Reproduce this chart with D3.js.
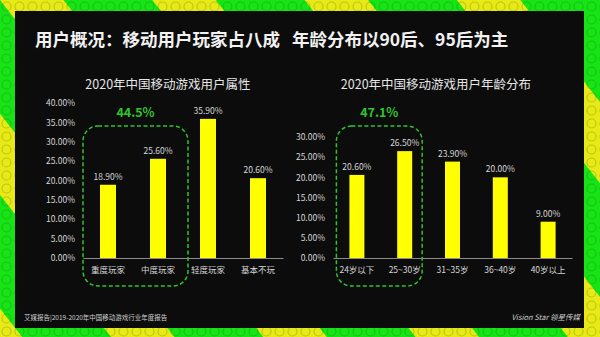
<!DOCTYPE html>
<html>
<head>
<meta charset="utf-8">
<script src="https://cdn.jsdelivr.net/npm/d3@7"></script>
<style>
  html, body { margin: 0; padding: 0; background: #000; }
  svg { display: block; }
  text { font-family: "Noto Sans CJK SC", "Noto Sans", sans-serif; }
</style>
</head>
<body>
<svg id="chart" width="600" height="337"></svg>
<script>
// ---- data ----
const typeCats = ["重度玩家", "中度玩家", "轻度玩家", "基本不玩"];
const typeVals = [18.9, 25.6, 35.9, 20.6];
const typeTicks = [0, 5, 10, 15, 20, 25, 30, 35, 40];

const ageCats = ["24岁以下", "25~30岁", "31~35岁", "36~40岁", "40岁以上"];
const ageVals = [20.6, 26.5, 23.9, 20.0, 9.0];
const ageTicks = [0, 5, 10, 15, 20, 25, 30];

const pageTitle = "用户概况：移动用户玩家占八成\u00a0\u00a0\u00a0年龄分布以90后、95后为主";
const typeTitle = "2020年中国移动游戏用户属性";
const ageTitle = "2020年中国移动游戏用户年龄分布";
const sourceText = "艾媒报告|2019-2020年中国移动游戏行业年度报告";
const brandText = "Vision Star 领星传媒";

// ---- palette ----
const GREEN = "#17e317";
const YELLOW = "#e9e918";
const BAR = "#ffff00";
const HILITE = "#2fc42f";
const LABEL = "#d6d6d6";

const svg = d3.select("#chart");
const defs = svg.append("defs");

// toy-brick backdrop: diagonal yellow bands on green, with stud rings
const stripes = defs.append("pattern")
  .attr("id", "bands")
  .attr("patternUnits", "userSpaceOnUse")
  .attr("width", 120).attr("height", 120)
  .attr("patternTransform", "rotate(-38)");
stripes.append("rect").attr("width", 120).attr("height", 120).attr("fill", GREEN);
stripes.append("rect").attr("width", 50).attr("height", 120).attr("fill", YELLOW);

const studs = defs.append("pattern")
  .attr("id", "studs")
  .attr("patternUnits", "userSpaceOnUse")
  .attr("width", 13).attr("height", 13);
studs.append("circle").attr("cx", 6.5).attr("cy", 6.5).attr("r", 4.5)
  .attr("fill", "none").attr("stroke", "rgba(0,80,0,0.22)").attr("stroke-width", 1.2);

svg.append("rect").attr("width", 600).attr("height", 337).attr("fill", "url(#bands)");
svg.append("rect").attr("width", 600).attr("height", 337).attr("fill", "url(#studs)");

// dark panel
svg.append("rect")
  .attr("x", 15).attr("y", 11).attr("width", 569).attr("height", 317)
  .attr("fill", "#0c0c0c");

// headline
svg.append("text")
  .attr("x", 35).attr("y", 46)
  .attr("fill", "#f2f2f2")
  .attr("font-size", 17.5)
  .attr("font-weight", "bold")
  .text(pageTitle);

// footer
svg.append("text")
  .attr("x", 24).attr("y", 320)
  .attr("fill", "#cfcfcf")
  .attr("font-size", 6.5)
  .text(sourceText);

svg.append("text")
  .attr("x", 580).attr("y", 320)
  .attr("text-anchor", "end")
  .attr("fill", "#cfcfcf")
  .attr("font-size", 7.5)
  .attr("font-style", "italic")
  .text(brandText);

const pct = d => d.toFixed(2) + "%";

function barPanel(opts) {
  const { cats, vals, ticks, title, titleX, xRange, yTop, barW, boxPadL, boxPadR } = opts;
  const baseY = 258;

  const step = (xRange[1] - xRange[0]) / cats.length;
  const inner = 1 - barW / step;
  const x = d3.scaleBand().domain(cats).range(xRange)
    .paddingInner(inner).paddingOuter(inner / 2);
  const y = d3.scaleLinear().domain([0, d3.max(ticks)]).range([baseY, yTop]);

  const g = svg.append("g");

  g.append("text")
    .attr("x", titleX).attr("y", 89)
    .attr("text-anchor", "middle")
    .attr("fill", "#e6e6e6")
    .attr("font-size", 12.5)
    .text(title);

  // y axis labels
  const ya = g.append("g")
    .attr("transform", `translate(${xRange[0]},0)`)
    .call(d3.axisLeft(y).tickValues(ticks).tickSize(0).tickPadding(8).tickFormat(pct));
  ya.select(".domain").remove();
  ya.selectAll("text").attr("fill", LABEL).attr("font-size", 8.5)
    .style("font-family", '"Noto Sans CJK SC", sans-serif');

  // bars
  g.selectAll("rect.bar").data(vals).join("rect")
    .attr("class", "bar")
    .attr("x", (d, i) => x(cats[i]))
    .attr("width", x.bandwidth())
    .attr("y", d => y(d))
    .attr("height", d => baseY - y(d))
    .attr("fill", BAR);

  // value labels
  g.selectAll("text.val").data(vals).join("text")
    .attr("class", "val")
    .attr("x", (d, i) => x(cats[i]) + x.bandwidth() / 2)
    .attr("y", d => y(d) - 5)
    .attr("text-anchor", "middle")
    .attr("fill", LABEL)
    .attr("font-size", 8.5)
    .text(pct);

  // x axis
  const xa = g.append("g")
    .attr("transform", `translate(0,${baseY})`)
    .call(d3.axisBottom(x).tickSize(0).tickPadding(9));
  xa.select(".domain").attr("stroke", "#8c8c8c").attr("stroke-width", 1);
  xa.selectAll("text").attr("fill", LABEL).attr("font-size", 8.5)
    .style("font-family", '"Noto Sans CJK SC", sans-serif');

  // dashed highlight around the first two bars
  const bx0 = x(cats[0]) - boxPadL;
  const bx1 = x(cats[1]) + x.bandwidth() + boxPadR;
  g.append("rect")
    .attr("x", bx0).attr("y", 126)
    .attr("width", bx1 - bx0).attr("height", 160)
    .attr("rx", 15).attr("ry", 15)
    .attr("fill", "none")
    .attr("stroke", HILITE)
    .attr("stroke-width", 1.5)
    .attr("stroke-dasharray", "4,2.5");

  const share = d3.sum(vals.slice(0, 2));
  g.append("text")
    .attr("x", (bx0 + bx1) / 2).attr("y", 117)
    .attr("text-anchor", "middle")
    .attr("fill", HILITE)
    .attr("font-size", 12.5)
    .attr("font-weight", "bold")
    .text(share.toFixed(1) + "%");
}

barPanel({
  cats: typeCats, vals: typeVals, ticks: typeTicks, title: typeTitle,
  titleX: 168, xRange: [83, 283], yTop: 103, barW: 16, boxPadL: 17, boxPadR: 22
});

barPanel({
  cats: ageCats, vals: ageVals, ticks: ageTicks, title: ageTitle,
  titleX: 436, xRange: [333, 572], yTop: 137, barW: 15, boxPadL: 13, boxPadR: 10
});
</script>
</body>
</html>
